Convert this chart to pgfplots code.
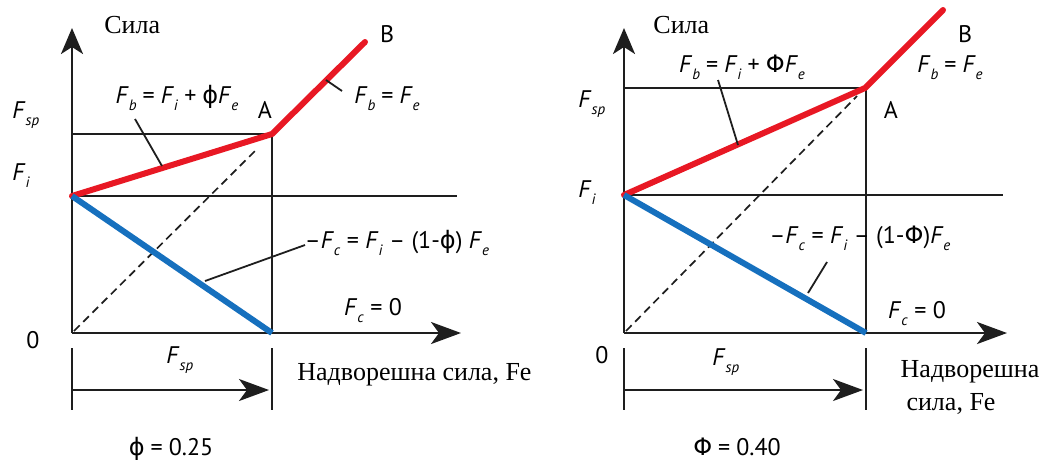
\documentclass[border=0pt]{standalone}
\usepackage{pgfplots}
\pgfplotsset{compat=1.18}
\usepackage{fontspec}
\setmainfont{Liberation Serif}
\newfontfamily\ssf{PT Sans}
\newfontfamily\grk{DejaVu Sans}
\usetikzlibrary{arrows.meta}
\definecolor{myred}{RGB}{232,24,36}
\definecolor{myblue}{RGB}{22,112,190}
\definecolor{ln}{RGB}{30,30,30}
\newcommand\F[1]{\textit{F}\raisebox{-0.6ex}{\fontsize{7.5}{7.5}\selectfont\textit{#1}}}
\newcommand\gap{\hspace{3pt}}
\tikzset{
  serif/.style={font=\rmfamily\fontsize{13}{14}\selectfont, inner sep=0pt},
  sans/.style={font=\ssf\fontsize{12}{13}\selectfont, inner sep=0pt},
}
\begin{document}
\begin{tikzpicture}
\begin{axis}[hide axis, scale only axis, width=529pt, height=231.5pt,
  xmin=0, xmax=1058, ymin=0, ymax=463, y dir=reverse, clip=false, no markers,
  every axis plot/.append style={line join=round}]
% ---------- left panel ----------
\addplot[ln, line width=1.3pt, -{Stealth[length=13pt,width=11pt,inset=3.5pt]}] coordinates {(72,333) (72,28)};
\addplot[ln, line width=1.3pt, -{Stealth[length=15pt,width=11pt,inset=4pt]}] coordinates {(72,333) (461,333)};
\addplot[ln, line width=1pt] coordinates {(72,196) (457,196)};
\addplot[ln, line width=1pt] coordinates {(72,134) (272,134)};
\addplot[ln, line width=1pt] coordinates {(272,134) (272,333)};
\addplot[ln, line width=1pt] coordinates {(72,348) (72,410)};
\addplot[ln, line width=1pt] coordinates {(272,348) (272,410)};
\addplot[ln, line width=1pt, -{Stealth[length=15pt,width=11pt,inset=4pt]}] coordinates {(72,390) (269,390)};
\addplot[ln, line width=0.85pt, dash pattern=on 4pt off 2.5pt] coordinates {(74,331) (258,148)};
\addplot[myred, line width=3pt, line cap=round] coordinates {(72,196) (272,134) (365,42)};
\addplot[myblue, line width=3pt] coordinates {(72,196) (272,333)};
\addplot[ln, line width=0.9pt] coordinates {(135,119) (162,166)};
\addplot[ln, line width=0.9pt] coordinates {(326,80) (342,91)};
\addplot[ln, line width=0.9pt] coordinates {(205,281) (305,245)};
\node[serif, anchor=base west] at (axis cs:104,33) {Сила};
\node[sans, anchor=base] at (axis cs:387,42) {B};
\node[sans, anchor=base] at (axis cs:265,118) {A};
\node[sans, anchor=base west] at (axis cs:12,118) {\F{sp}};
\node[sans, anchor=base west] at (axis cs:12,180) {\F{i}};
\node[sans] at (axis cs:33,340) {0};
\node[sans, anchor=base] at (axis cs:177,103) {\F{b}\gap=\gap\F{i}\gap+\gap{\grk ϕ}\F{e}};
\node[sans, anchor=base] at (axis cs:387,103) {\F{b}\gap=\gap\F{e}};
\node[sans, anchor=base] at (axis cs:397,248) {–\F{c} = \F{i} – (1-{\grk ϕ}) \F{e}};
\node[sans, anchor=base] at (axis cs:373,315) {\F{c} = 0};
\node[sans, anchor=base west] at (axis cs:166,363) {\F{sp}};
\node[serif, anchor=base west] at (axis cs:297,380) {Надворешна сила, Fe};
\node[sans, anchor=base] at (axis cs:171,455) {{\grk ϕ}\gap=\gap0.25};
% ---------- right panel ----------
\addplot[ln, line width=1.3pt, -{Stealth[length=13pt,width=11pt,inset=3.5pt]}] coordinates {(624,333) (624,28)};
\addplot[ln, line width=1.3pt, -{Stealth[length=15pt,width=11pt,inset=4pt]}] coordinates {(624,333) (1007,333)};
\addplot[ln, line width=1pt] coordinates {(624,195) (1003,195)};
\addplot[ln, line width=1pt] coordinates {(624,88) (866,88)};
\addplot[ln, line width=1pt] coordinates {(866,88) (866,333)};
\addplot[ln, line width=1pt] coordinates {(624,348) (624,410)};
\addplot[ln, line width=1pt] coordinates {(866,348) (866,410)};
\addplot[ln, line width=1pt, -{Stealth[length=15pt,width=11pt,inset=4pt]}] coordinates {(624,390) (863,390)};
\addplot[ln, line width=0.85pt, dash pattern=on 4pt off 2.5pt] coordinates {(626,331) (857,96)};
\addplot[myred, line width=3pt, line cap=round] coordinates {(624,195) (865,88) (943,10)};
\addplot[myblue, line width=3pt] coordinates {(624,195) (866,333)};
\addplot[ln, line width=0.9pt] coordinates {(718,80) (738,145)};
\addplot[ln, line width=0.9pt] coordinates {(827,262) (808,293)};
\node[serif, anchor=base west] at (axis cs:653,33) {Сила};
\node[sans, anchor=base] at (axis cs:965,42) {B};
\node[sans, anchor=base] at (axis cs:891,118) {A};
\node[sans, anchor=base west] at (axis cs:578,107) {\F{sp}};
\node[sans, anchor=base west] at (axis cs:578,197) {\F{i}};
\node[sans] at (axis cs:602,355) {0};
\node[sans, anchor=base] at (axis cs:742,72) {\F{b}\gap=\gap\F{i}\gap+\gap{\grk Φ}\F{e}};
\node[sans, anchor=base] at (axis cs:950,72) {\F{b}\gap=\gap\F{e}};
\node[sans, anchor=base] at (axis cs:860,243) {–\F{c} = \F{i} – (1-{\grk Φ})\F{e}};
\node[sans, anchor=base] at (axis cs:917,318) {\F{c} = 0};
\node[sans, anchor=base west] at (axis cs:712,365) {\F{sp}};
\node[serif, anchor=base] at (axis cs:970,377) {Надворешна};
\node[serif, anchor=base] at (axis cs:951,410) {сила, Fe};
\node[sans, anchor=base] at (axis cs:737,455) {{\grk Φ}\gap=\gap0.40};
\end{axis}
\pgfresetboundingbox
\path[use as bounding box] (0,0) rectangle (529pt,231.5pt);
\end{tikzpicture}
\end{document}
